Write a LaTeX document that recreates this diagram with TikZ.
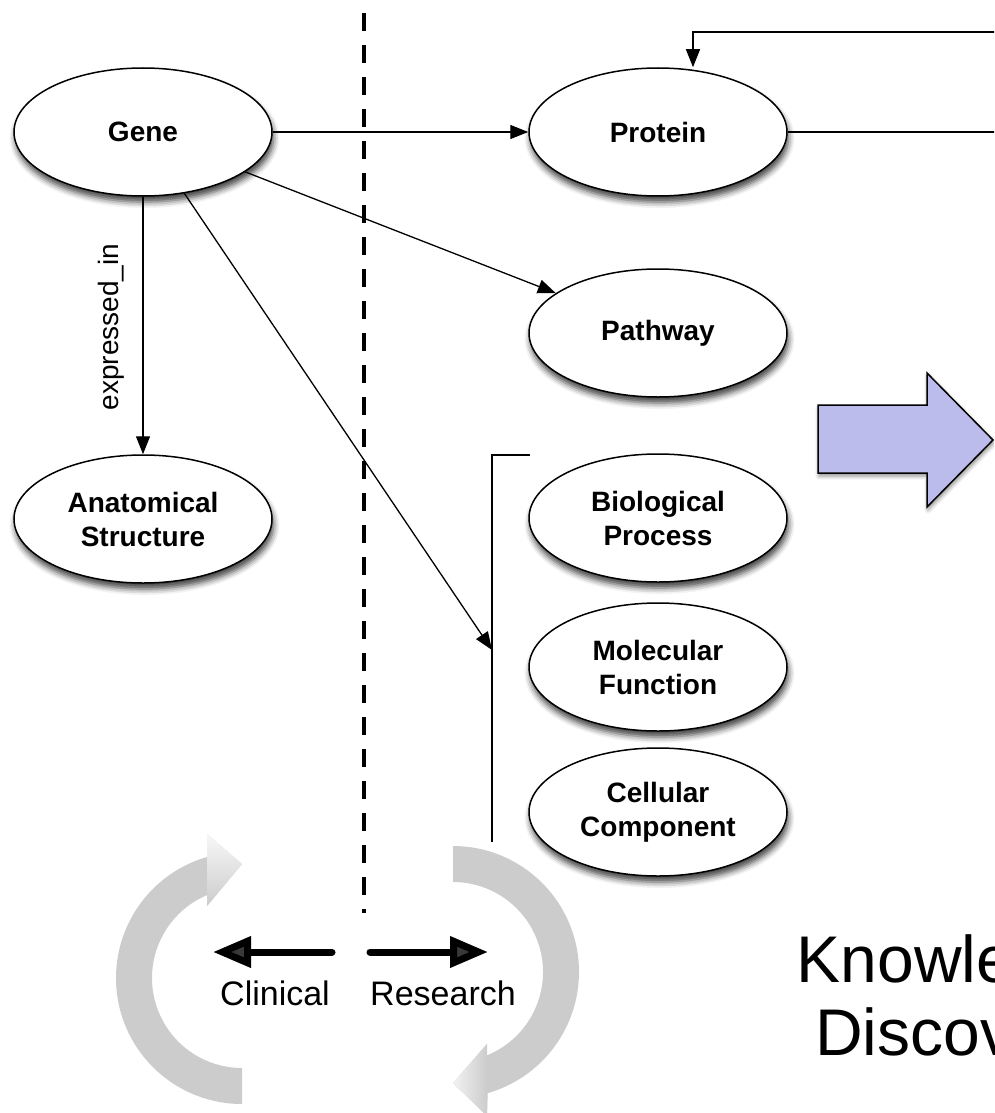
\documentclass[tikz,border=0pt]{standalone}
\usepackage{fontspec}
\setmainfont{Liberation Sans}
\usepackage{xcolor}
\usepackage{tikz}
\usetikzlibrary{arrows.meta,calc}
\usetikzlibrary{shapes.geometric,shadows.blur}

\definecolor{kdblue}{RGB}{187,187,236}
\definecolor{cyclegray}{RGB}{204,204,204}

\begin{document}
\begin{tikzpicture}[x=1pt, y=-1pt, >={Triangle[length=18pt,width=14pt]},
	concept/.style={ellipse, draw, line width=1.5pt, fill=white, minimum width=258pt, minimum height=128pt, inner sep=0pt, align=center, font=\bfseries\fontsize{28}{34}\selectfont, blur shadow={shadow xshift=1.5pt, shadow yshift=-6pt, shadow blur radius=6pt, shadow opacity=75}},
	link/.style={->, line width=1.3pt},
	side/.style={line width=7pt, line cap=round, -{Triangle[length=38pt,width=30pt]}}]

\clip (0,0) rectangle (994,1113);

% concepts
\node[concept] (gene) at (143,132) {Gene};
\node[concept] (protein) at (658,132) {Protein};
\node[concept] (pathway) at (658,333) {Pathway};
\node[concept] (anat) at (143,519) {Anatomical\\Structure};
\foreach \name/\y/\txt in {bioproc/518/{Biological\\Process}, molfunc/667/{Molecular\\Function}, cellcomp/812/{Cellular\\Component}}
{
	\node[concept] (\name) at (658,\y) {\txt};
}

% clinical / research divide
\draw[line width=3.5pt, dash pattern=on 18pt off 14pt] (364,13) -- (364,913);

% relations
\draw[link] (gene) -- (protein);
\draw[link] (gene) -- (pathway);
\draw[link] (gene) -- (anat);
\node[rotate=90, font=\fontsize{28}{34}\selectfont] (exprin) at (111,327) {expressed\_in};

\coordinate (brtop) at (530,455);
\coordinate (brbot) at (492,842);
\draw[line width=1.3pt] (brtop) -| (brbot);
\coordinate (gobracket) at (492,650);
\draw[link] (gene) -- (gobracket);

\coordinate (loopcorner) at (1030,32);
\draw[link] (protein.east) -| (loopcorner) -| ($(protein.north)+(35,0)$);

% big arrow
\draw[fill=kdblue, line width=1.5pt, line join=miter, blur shadow={shadow xshift=1pt, shadow yshift=-3pt, shadow blur radius=4pt, shadow opacity=45}]
	(818,405) -- (927,405) -- (927,373) -- (993,440) -- (927,507) -- (927,473) -- (818,473) -- cycle;

\node[font=\fontsize{66}{73}\selectfont, anchor=base] (know) at (960,982) {Knowledge};
\node[font=\fontsize{66}{73}\selectfont, anchor=base] (disc) at (960,1055) {Discovery};

% cycle
\coordinate (lc) at (242,978);
\coordinate (rc) at (453,972);
\fill[cyclegray] ($(lc)+(90:126)$) arc[start angle=90, end angle=254, radius=126]
	-- ($(lc)+(-35,-144)$) -- ($(lc)+(0,-114)$) -- ($(lc)+(-35,-72)$)
	-- ($(lc)+(248:90)$) arc[start angle=248, end angle=90, radius=90] -- cycle;
\shade[top color=black!3, bottom color=cyclegray] ($(lc)+(-35,-144)$) -- ($(lc)+(0,-114)$) -- ($(lc)+(-35,-72)$) -- cycle;
\fill[cyclegray] ($(rc)+(-90:126)$) arc[start angle=-90, end angle=74, radius=126]
	-- ($(rc)+(34,144)$) -- ($(rc)+(0,111)$) -- ($(rc)+(34,72)$)
	-- ($(rc)+(68:90)$) arc[start angle=68, end angle=-90, radius=90] -- cycle;
\shade[left color=black!5, right color=cyclegray] ($(rc)+(34,144)$) -- ($(rc)+(0,111)$) -- ($(rc)+(34,72)$) -- cycle;

\coordinate (clintail) at (332,952);
\coordinate (clintip) at (213,952);
\coordinate (restail) at (370,952);
\coordinate (restip) at (488,952);
\draw[side] (clintail) -- (clintip);
\draw[side] (restail) -- (restip);
\node[font=\fontsize{34}{40}\selectfont, anchor=base] (clinical) at (275,1005) {Clinical};
\node[font=\fontsize{34}{40}\selectfont, anchor=base] (research) at (443,1005) {Research};

\end{tikzpicture}
\end{document}
